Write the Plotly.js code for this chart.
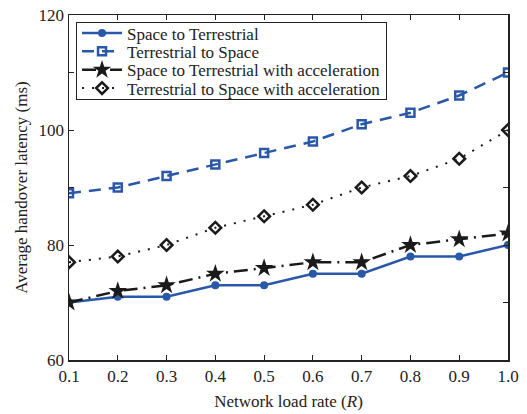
<!DOCTYPE html>
<html>
<head>
<meta charset="utf-8">
<script src="https://cdn.plot.ly/plotly-3.0.1.min.js"></script>
<style>html,body{margin:0;padding:0;background:#fff;}#chart{width:527px;height:414px;}</style>
</head>
<body>
<div id="chart"></div>
<script>
const loadRate = [0.1, 0.2, 0.3, 0.4, 0.5, 0.6, 0.7, 0.8, 0.9, 1.0];
const xTickText = ['0.1','0.2','0.3','0.4','0.5','0.6','0.7','0.8','0.9','1.0'];
const spaceToTerrestrial = [70, 71, 71, 73, 73, 75, 75, 78, 78, 80];
const terrestrialToSpace = [89, 90, 92, 94, 96, 98, 101, 103, 106, 110];
const spaceToTerrestrialAcc = [70, 72, 73, 75, 76, 77, 77, 80, 81, 82];
const terrestrialToSpaceAcc = [77, 78, 80, 83, 85, 87, 90, 92, 95, 100];
const yTickVals = [60, 70, 80, 90, 100, 110, 120];
const yTickText = ['60', '', '80', '', '100', '', '120'];

const blue = '#2a58a8';
const black = '#1a1a1a';
const font = {family: 'Liberation Serif, Times New Roman, serif', size: 17, color: '#222'};

const traces = [
  {x: loadRate, y: spaceToTerrestrial, name: 'Space to Terrestrial', mode: 'lines+markers',
   line: {color: blue, width: 2.5}, marker: {symbol: 'circle', size: 8, color: blue}},
  {x: loadRate, y: terrestrialToSpace, name: 'Terrestrial to Space', mode: 'lines+markers',
   line: {color: blue, width: 2.5, dash: '12px,8px'},
   marker: {symbol: 'square-open', size: 8, color: blue, line: {width: 2.5, color: blue}}},
  {x: loadRate, y: spaceToTerrestrialAcc, name: 'Space to Terrestrial with acceleration', mode: 'lines+markers',
   line: {color: black, width: 2.5, dash: '14px,6px,2px,6px'},
   marker: {symbol: 'star', size: 14, color: black}},
  {x: loadRate, y: terrestrialToSpaceAcc, name: 'Terrestrial to Space with acceleration', mode: 'lines+markers',
   line: {color: black, width: 2, dash: '2px,8px'},
   marker: {symbol: 'diamond-open', size: 9, color: black, line: {width: 2.5, color: black}}}
];

const axisCommon = {
  showgrid: false, zeroline: false, showline: true, linecolor: '#222', linewidth: 1.5,
  mirror: 'allticks', ticks: 'inside', ticklen: 5, tickwidth: 1, tickcolor: '#222',
  tickfont: font
};

const layout = {
  width: 527, height: 414,
  margin: {l: 69, r: 19, t: 15, b: 54},
  paper_bgcolor: '#fff', plot_bgcolor: '#fff',
  font: font,
  showlegend: true,
  legend: {x: 0.016, y: 0.98, xanchor: 'left', yanchor: 'top', bgcolor: '#fff',
           bordercolor: '#222', borderwidth: 1, font: font, tracegroupgap: 0,
           itemwidth: 40},
  xaxis: Object.assign({}, axisCommon, {
    range: [0.1, 1.0], tickvals: loadRate, ticktext: xTickText,
    title: {text: 'Network load rate (<i>R</i>)', font: font, standoff: 10}
  }),
  yaxis: Object.assign({}, axisCommon, {
    range: [60, 120], tickvals: yTickVals, ticktext: yTickText,
    title: {text: 'Average handover latency (ms)', font: font, standoff: 6}
  })
};

Plotly.newPlot('chart', traces, layout, {displayModeBar: false, staticPlot: true}).then(function (gd) {
  // tighten legend row spacing to match the reference
  const items = gd.querySelectorAll('.legend .traces');
  const rowH = 18.4;
  const firstRow = 11;
  items.forEach(function (it, i) {
    const m = /translate\(\s*([-\d.]+)[ ,]+([-\d.]+)\s*\)/.exec(it.getAttribute('transform') || '');
    if (!m) return;
    const x = parseFloat(m[1]);
    it.setAttribute('transform', 'translate(' + x + ',' + (firstRow + i * rowH) + ')');
  });
  const bg = gd.querySelector('.legend .bg');
  if (bg) {
    bg.setAttribute('height', (firstRow + (items.length - 1) * rowH + 11).toFixed(1));
  }
});
</script>
</body>
</html>
